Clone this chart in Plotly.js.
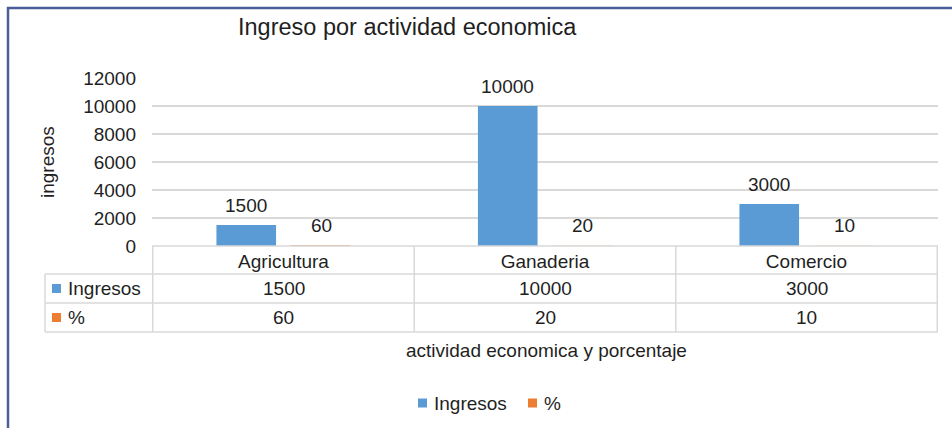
<!DOCTYPE html>
<html>
<head>
<meta charset="utf-8">
<script src="https://cdn.plot.ly/plotly-3.0.1.min.js"></script>
<style>
html,body{margin:0;padding:0;background:#fff;}
#chart{width:952px;height:428px;}
</style>
</head>
<body>
<div id="chart"></div>
<script>
// ---- data ----
const categories = ["Agricultura", "Ganaderia", "Comercio"];
const seriesNames = ["Ingresos", "%"];
const ingresos = [1500, 10000, 3000];
const porcentaje = [60, 20, 10];
const yTicks = [0, 2000, 4000, 6000, 8000, 10000, 12000];
const titleText = "Ingreso por actividad economica";
const yTitle = "ingresos";
const xTitle = "actividad economica y porcentaje";

// ---- styling / geometry ----
const W = 952, H = 428;
const L = 152, R = 938, T = 78, B = 246;
const colors = ["#5B9BD5", "#ED7D31"];
const FONT = "Liberation Sans, Arial, Helvetica, sans-serif";
const txt = "#1f1f1f";
const grid = "#d9d9d9";
const px = x => (x - L) / (R - L);
const py = y => (B - y) / (B - T);

const series = [ingresos, porcentaje];
const traces = series.map((vals, i) => ({
  type: "bar",
  name: seriesNames[i],
  x: categories,
  y: vals,
  marker: {color: colors[i]},
  showlegend: false,
  hoverinfo: "x+y+name"
}));

const annotations = [];
const shapes = [];

// bar value labels
series.forEach((vals, i) => {
  vals.forEach((v, j) => {
    annotations.push({
      x: categories[j], y: v, xref: "x", yref: "y",
      text: String(v), showarrow: false,
      xshift: i === 0 ? -37.5 : 37.5, yshift: 20,
      yanchor: "middle",
      font: {family: FONT, size: 19, color: txt}
    });
  });
});

// data table
const rowLines = [274, 303, 332];
const rowCenters = [288.5, 317.5];
shapes.push({type: "line", xref: "paper", yref: "paper", x0: 0, x1: 1, y0: 0, y1: 0, line: {color: grid, width: 1.5}});
rowLines.forEach(y => shapes.push({type: "line", xref: "paper", yref: "paper", x0: px(45), x1: 1, y0: py(y), y1: py(y), line: {color: grid, width: 1.5}}));
shapes.push({type: "line", xref: "paper", yref: "paper", x0: px(45), x1: px(45), y0: py(274), y1: py(332), line: {color: grid, width: 1.5}});
for (let k = 0; k <= categories.length; k++) {
  shapes.push({type: "line", xref: "x", yref: "paper", x0: k - 0.5, x1: k - 0.5, y0: py(246), y1: py(332), line: {color: grid, width: 1.5}});
}
series.forEach((vals, i) => {
  // row header key
  shapes.push({type: "rect", xref: "paper", yref: "paper", x0: px(52), x1: px(61), y0: py(rowCenters[i] + 4.5), y1: py(rowCenters[i] - 4.5), line: {width: 0}, fillcolor: colors[i]});
  annotations.push({x: px(66), y: py(rowCenters[i]), xref: "paper", yref: "paper", xanchor: "left", yanchor: "middle", text: seriesNames[i], showarrow: false, font: {family: FONT, size: 19, color: txt}});
  vals.forEach((v, j) => {
    annotations.push({x: categories[j], y: py(rowCenters[i]), xref: "x", yref: "paper", yanchor: "middle", text: String(v), showarrow: false, font: {family: FONT, size: 19, color: txt}});
  });
});

// legend (bottom)
const legendItems = [{sq: 418, tx: 432}, {sq: 528, tx: 542}];
seriesNames.forEach((name, i) => {
  const it = legendItems[i];
  shapes.push({type: "rect", xref: "paper", yref: "paper", x0: px(it.sq), x1: px(it.sq + 9), y0: py(407.5), y1: py(398.5), line: {width: 0}, fillcolor: colors[i]});
  annotations.push({x: px(it.tx), y: py(403), xref: "paper", yref: "paper", xanchor: "left", yanchor: "middle", text: name, showarrow: false, font: {family: FONT, size: 19, color: txt}});
});

// axis titles
annotations.push({x: px(546), y: py(350), xref: "paper", yref: "paper", text: xTitle, showarrow: false, yanchor: "middle", font: {family: FONT, size: 19, color: txt}});
annotations.push({x: px(47), y: py(162), xref: "paper", yref: "paper", text: yTitle, showarrow: false, textangle: -90, xanchor: "center", yanchor: "middle", font: {family: FONT, size: 19, color: txt}});

// chart border (left & top)
shapes.push({type: "line", xref: "paper", yref: "paper", x0: px(8), x1: px(8), y0: py(7), y1: py(430), line: {color: "#4A5E98", width: 2.5}});
shapes.push({type: "line", xref: "paper", yref: "paper", x0: px(7), x1: px(954), y0: py(8), y1: py(8), line: {color: "#4A5E98", width: 2.5}});

const layout = {
  width: W, height: H,
  margin: {l: L, r: W - R, t: T, b: H - B, pad: 0, autoexpand: false},
  paper_bgcolor: "#ffffff", plot_bgcolor: "#ffffff",
  font: {family: FONT, size: 19, color: txt},
  title: {text: titleText, xref: "container", yref: "container", x: 238 / W, xanchor: "left", y: 1 - 27 / H, yanchor: "middle", font: {family: FONT, size: 23.5, color: txt}},
  barmode: "group", bargap: 0.43, bargroupgap: 0.2,
  xaxis: {type: "category", showgrid: false, zeroline: false, showline: false, ticks: "", tickfont: {family: FONT, size: 19, color: txt}, ticklabelstandoff: 2, fixedrange: true},
  yaxis: {range: [0, 12000], tickvals: yTicks, ticktext: yTicks.map(String), showgrid: true, gridcolor: grid, gridwidth: 1.5, zeroline: false, showline: false, ticks: "", ticklabelstandoff: 15, tickfont: {family: FONT, size: 19, color: txt}, fixedrange: true},
  showlegend: false,
  annotations: annotations,
  shapes: shapes
};

Plotly.newPlot("chart", traces, layout, {displayModeBar: false, staticPlot: true});
</script>
</body>
</html>
